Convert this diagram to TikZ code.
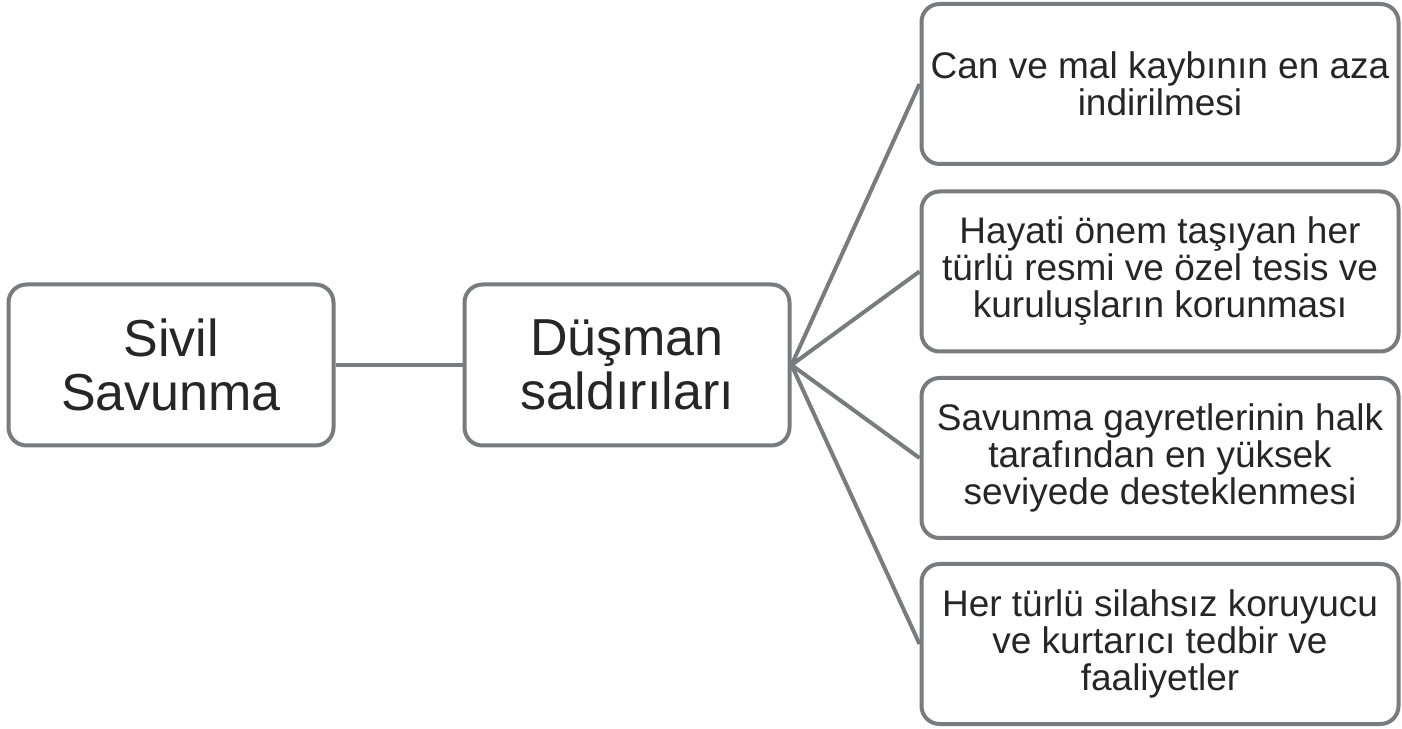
\documentclass[tikz,border=0pt]{standalone}
\usepackage{fontspec}
\setmainfont{Liberation Sans}
\definecolor{edgegray}{RGB}{122,123,127}
\definecolor{txtgray}{RGB}{38,38,38}
\tikzset{
  bigbox/.style={draw=edgegray, line width=4pt, rounded corners=18pt, fill=white,
    minimum width=325pt, minimum height=161pt, align=center, text=txtgray,
    font=\fontsize{52}{54}\selectfont, inner sep=0pt},
  leafbox/.style={draw=edgegray, line width=4pt, rounded corners=18pt, fill=white,
    minimum width=477pt, minimum height=160pt, align=center, text=txtgray,
    font=\fontsize{37}{37}\selectfont, inner sep=0pt},
  conn/.style={draw=edgegray, line width=4pt}
}
\begin{document}
\begin{tikzpicture}[x=1pt,y=1pt]
\useasboundingbox (0,0) rectangle (1402,728);
\node[bigbox] (A) at (171,363) {Sivil\\Savunma};
\node[bigbox] (B) at (627,363) {Düşman\\saldırıları};
\node[leafbox] (R1) at (1160,644) {Can ve mal kaybının en aza\\indirilmesi};
\node[leafbox] (R2) at (1160,456.5) {Hayati önem taşıyan her\\türlü resmi ve özel tesis ve\\kuruluşların korunması};
\node[leafbox] (R3) at (1160,270) {Savunma gayretlerinin halk\\tarafından en yüksek\\seviyede desteklenmesi};
\node[leafbox] (R4) at (1160,84) {Her türlü silahsız koruyucu\\ve kurtarıcı tedbir ve\\faaliyetler};
\draw[conn] (A.east) -- (B.west);
\draw[conn] (B.east) -- (R1.west);
\draw[conn] (B.east) -- (R2.west);
\draw[conn] (B.east) -- (R3.west);
\draw[conn] (B.east) -- (R4.west);
\end{tikzpicture}
\end{document}
